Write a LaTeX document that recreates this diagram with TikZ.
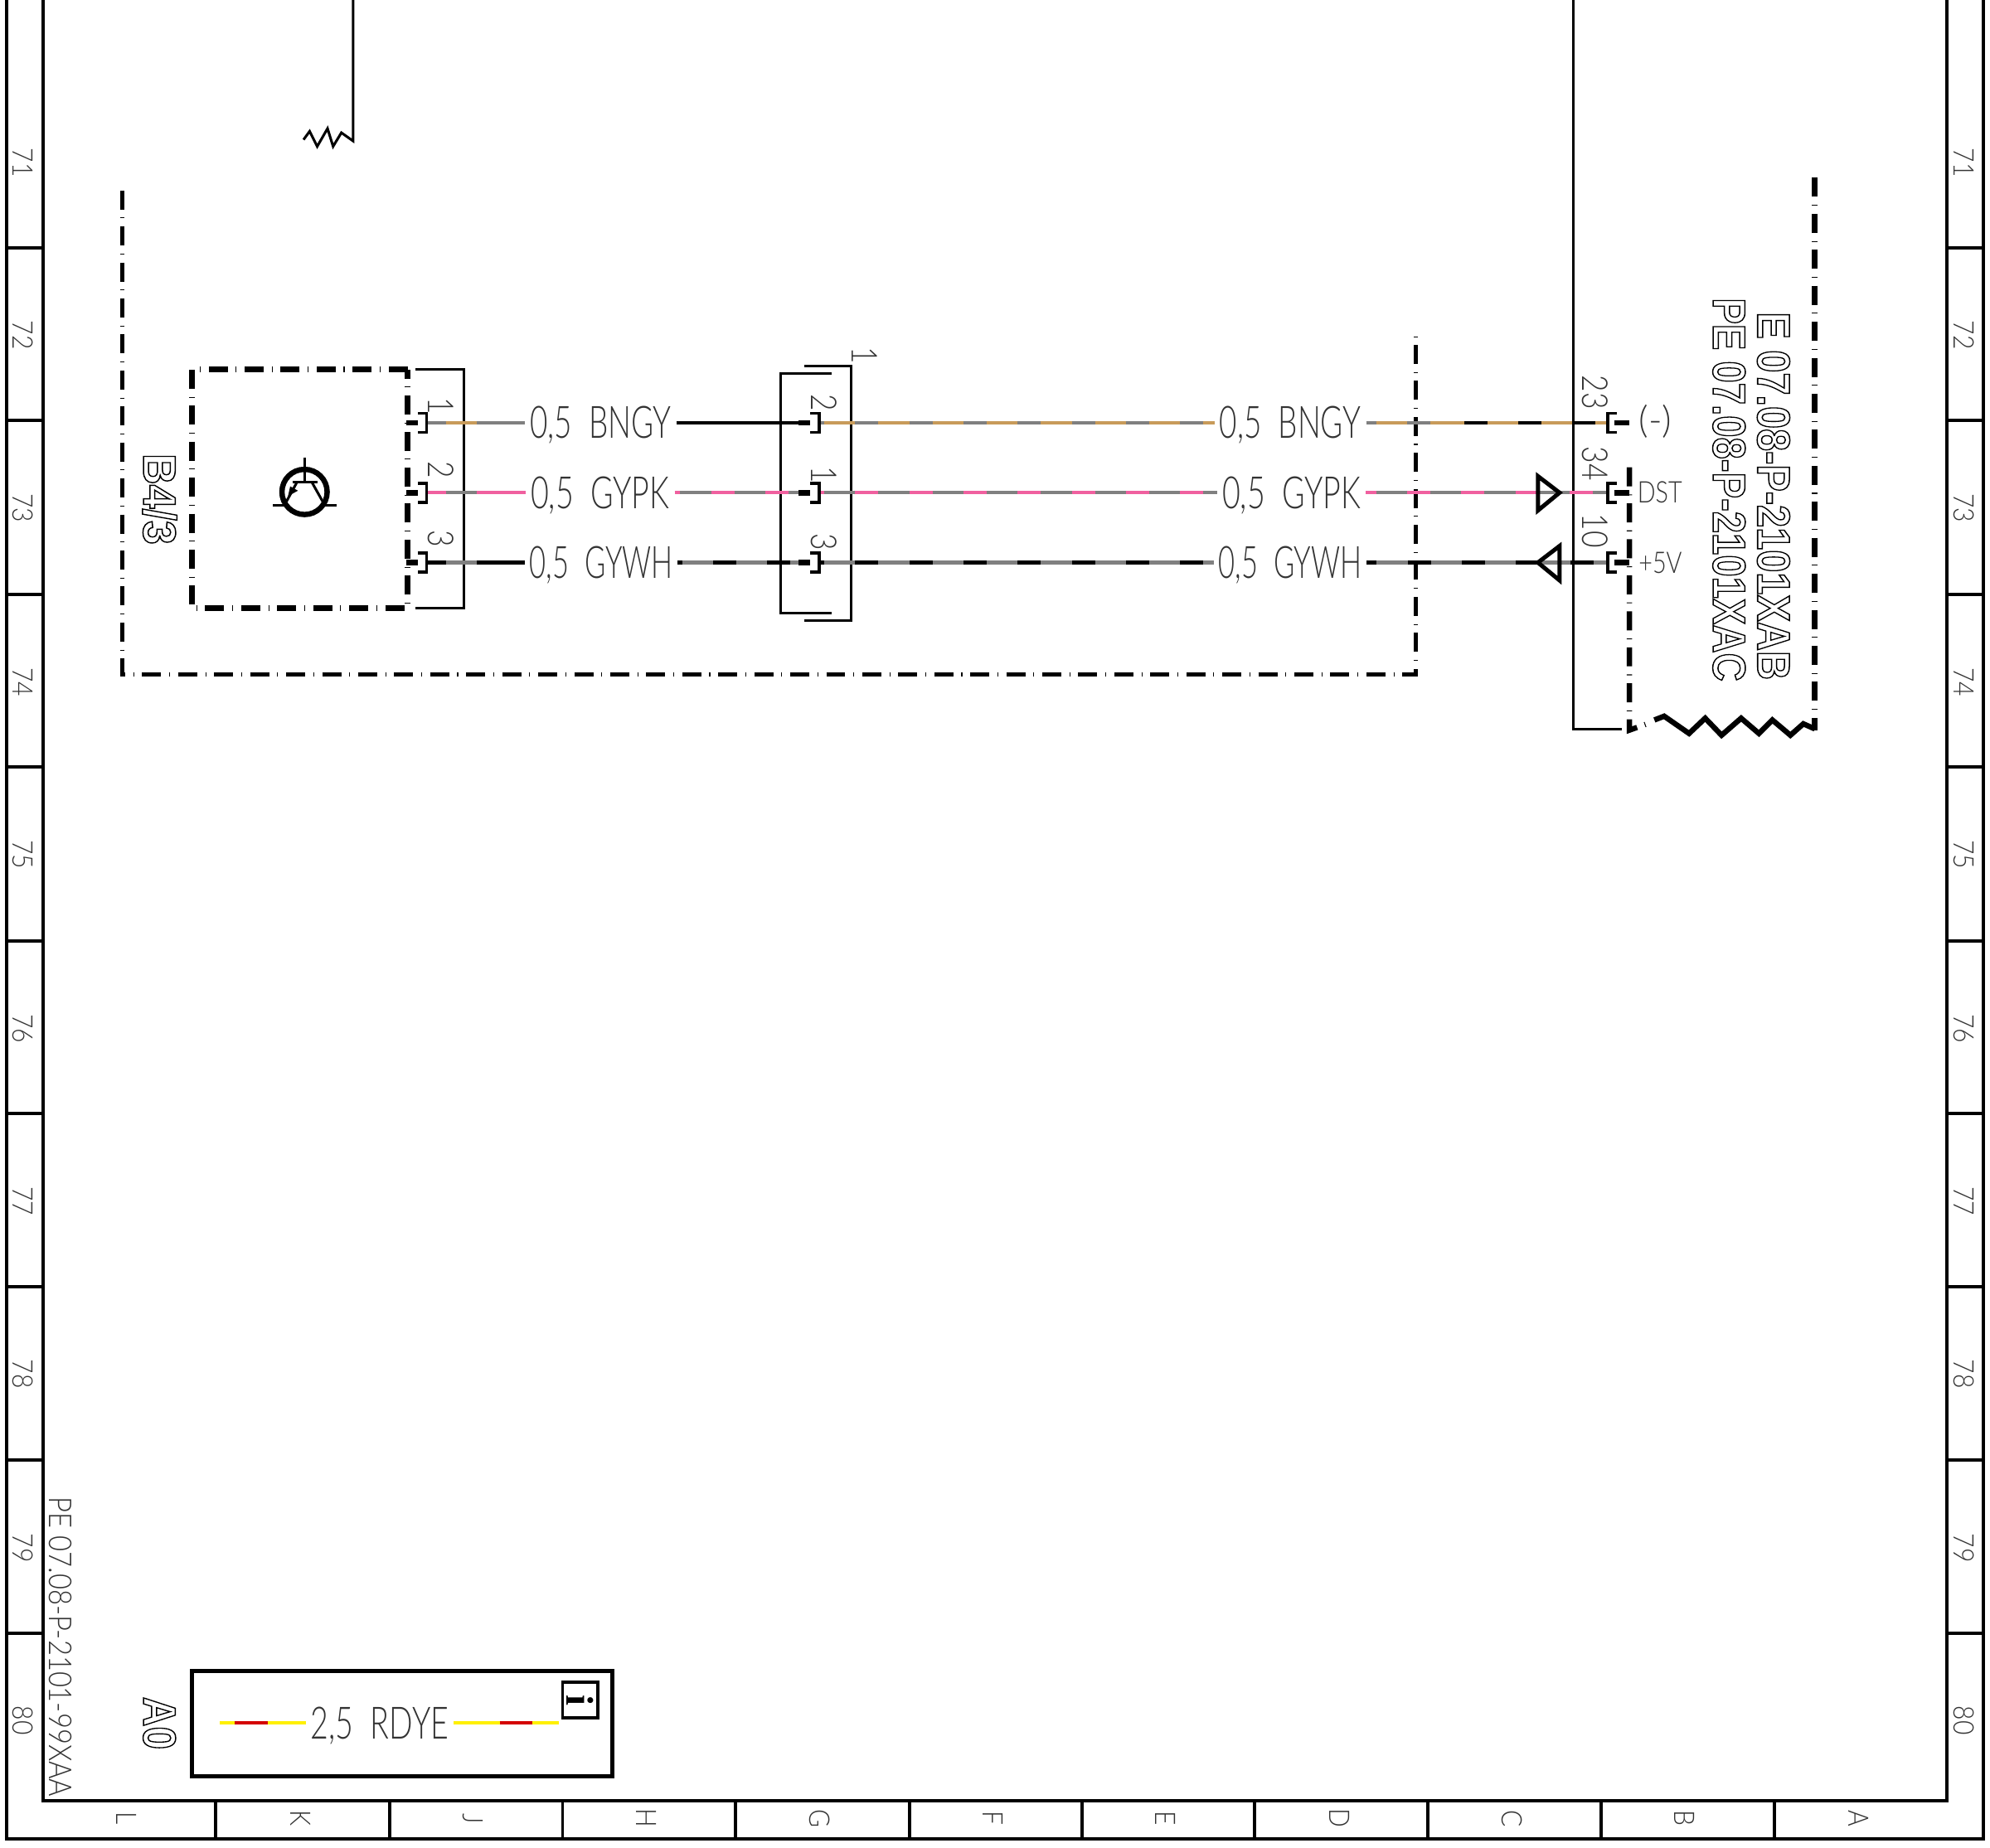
\documentclass[tikz,border=0pt]{standalone}
\usepackage{fontspec}
\setmainfont{Lato Light}
\newfontfamily\titlefont{Liberation Sans}
\newfontfamily\iconfont{Liberation Serif}
\newcommand{\hollow}[1]{\special{pdf: code 1 Tr 0.42 w}#1\special{pdf: code 0 Tr}}
\usetikzlibrary{positioning}
\definecolor{wiretan}{HTML}{C89B5A}
\definecolor{wirepink}{HTML}{F0609F}
\definecolor{wiregray}{HTML}{808080}
\definecolor{wireyellow}{HTML}{FFF000}
\definecolor{wirered}{HTML}{D40000}
\tikzset{
	frameline/.style={line width=1.1pt},
	thinline/.style={line width=.85pt},
	boxline/.style={line width=1.8pt,dash pattern=on 6.4pt off 2.7pt on .3pt off 2.7pt},
	outerline/.style={line width=1.4pt,dash pattern=on 6.4pt off 2.7pt on .3pt off 2.7pt},
	wire/.style n args={3}{line width=1.15pt,draw=#1,postaction={draw=#2,dash pattern=on 10.4pt off 7.8pt,dash phase=#3}},
	stubwire/.style n args={4}{line width=1.15pt,draw=#1,postaction={draw=#2,dash pattern=on #3 off 100pt,dash phase=#4}},
	txt/.style={inner sep=0pt,text=black!80,transform shape},
	rownum/.style={txt,rotate=-90,xscale=.88,font=\fontsize{9.5}{10}\selectfont,text height=7pt,text depth=0pt},
	pinnum/.style={txt,rotate=-90,xscale=.82,font=\fontsize{12}{13}\selectfont,text height=8.6pt,text depth=0pt},
	wirelabel/.style={txt,inner xsep=2.3pt,xscale=.64,font=\fontsize{15}{16}\selectfont,text height=10.5pt,text depth=0pt},
	signal/.style={txt,xscale=.8,font=\fontsize{10}{11}\selectfont,text height=7pt,text depth=0pt},
	title/.style={txt,rotate=-90,text=black,xscale=.85,font=\titlefont\bfseries\fontsize{15.5}{16}\selectfont,text height=11.1pt,text depth=0pt},
	plugR/.pic={
		\draw[line width=1.8pt] (-16,0) -- (-7,0);
		\draw[line width=1pt] (-7,-7.5) -- (0,-7.5) -- (0,7.5) -- (-7,7.5);
	},
	plugL/.pic={
		\draw[line width=1.8pt] (5,0) -- (17,0);
		\draw[line width=1pt] (7,-7.5) -- (0,-7.5) -- (0,7.5) -- (7,7.5);
	}
}
\begin{document}
\begin{tikzpicture}[x=0.015cm,y=-0.015cm]
	\useasboundingbox (0,0) rectangle (1567,1454.7);
	\draw[frameline] (5,0) -- (5,1448) -- (1562,1448) -- (1562,0);
	\draw[frameline] (34,0) -- (34,1418) -- (1533,1418) -- (1533,0);
	\draw[frameline]
		(5,195) -- (34,195) (5,331) -- (34,331) (5,468) -- (34,468) (5,604) -- (34,604) (5,741) -- (34,741)
		(5,877) -- (34,877) (5,1013) -- (34,1013) (5,1150) -- (34,1150) (5,1286) -- (34,1286)
		(1533,195) -- (1562,195) (1533,331) -- (1562,331) (1533,468) -- (1562,468) (1533,604) -- (1562,604) (1533,741) -- (1562,741)
		(1533,877) -- (1562,877) (1533,1013) -- (1562,1013) (1533,1150) -- (1562,1150) (1533,1286) -- (1562,1286)
		(170,1418) -- (170,1448) (307,1418) -- (307,1448) (443,1418) -- (443,1448) (579,1418) -- (579,1448) (716,1418) -- (716,1448)
		(852,1418) -- (852,1448) (988,1418) -- (988,1448) (1124,1418) -- (1124,1448) (1261,1418) -- (1261,1448) (1397,1418) -- (1397,1448);
	\node[rownum] (l71) at (18,128) {71};
	\node[rownum] (l72) at (18,264) {72};
	\node[rownum] (l73) at (18,400) {73};
	\node[rownum] (l74) at (18,537) {74};
	\node[rownum] (l75) at (18,673) {75};
	\node[rownum] (l76) at (18,810) {76};
	\node[rownum] (l77) at (18,946) {77};
	\node[rownum] (l78) at (18,1082) {78};
	\node[rownum] (l79) at (18,1219) {79};
	\node[rownum] (l80) at (18,1355) {80};
	\node[rownum] (r71) at (1547,128) {71};
	\node[rownum] (r72) at (1547,264) {72};
	\node[rownum] (r73) at (1547,400) {73};
	\node[rownum] (r74) at (1547,537) {74};
	\node[rownum] (r75) at (1547,673) {75};
	\node[rownum] (r76) at (1547,810) {76};
	\node[rownum] (r77) at (1547,946) {77};
	\node[rownum] (r78) at (1547,1082) {78};
	\node[rownum] (r79) at (1547,1219) {79};
	\node[rownum] (r80) at (1547,1355) {80};
	\node[rownum] (colL) at (100,1432) {L};
	\node[rownum] (colK) at (237,1432) {K};
	\node[rownum] (colJ) at (373,1432) {J};
	\node[rownum] (colH) at (509,1432) {H};
	\node[rownum] (colG) at (646,1432) {G};
	\node[rownum] (colF) at (782,1432) {F};
	\node[rownum] (colE) at (918,1432) {E};
	\node[rownum] (colD) at (1055,1432) {D};
	\node[rownum] (colC) at (1191,1432) {C};
	\node[rownum] (colB) at (1327,1432) {B};
	\node[rownum] (colA) at (1464,1432) {A};
	\node[txt,rotate=-90,xscale=.86,font=\fontsize{10.6}{11}\selectfont,text height=7.7pt,text depth=0pt] (pageref) at (48,1297) {PE 07.08-P-2101-99XAA};
	\draw[thinline] (278,0) -- (278,111) -- (268.8,104.5) -- (262.3,115.3) -- (257.9,101.2) -- (249.8,115.3) -- (243.8,103.4) -- (239,110);
	\draw[thinline] (1239,0) -- (1239,574) -- (1277,574);
	\draw[outerline] (96,150) -- (96,531) -- (1115,531) -- (1115,265);
	\draw[boxline] (321,291) -- (151,291) -- (151,479) -- (321,479) -- cycle;
	\draw[thinline] (327,291) -- (365,291) -- (365,479) -- (327,479);
	\draw[thinline] (655,294) -- (615,294) -- (615,483) -- (655,483);
	\draw[thinline] (633,288) -- (670,288) -- (670,489) -- (633,489);
	\draw[boxline] (1283,368) -- (1283,575) -- (1297,570);
	\draw[boxline] (1429,140) -- (1429,575);
	\draw[line width=1.8pt] (1302.7,567) -- (1310.4,564) -- (1330,577.6) -- (1342.7,565.6) -- (1355.6,579) -- (1371,565.6) -- (1385,577.6) -- (1395.6,567) -- (1409.8,579) -- (1420,570) -- (1429,574);
	\node[title,xscale=1.1] (b43) at (126,393) {\hollow{B4/3}};
	\node[title,xscale=1.05] (a0) at (126,1357) {\hollow{A0}};
	\node[title,anchor=east,xscale=1.03] (xab) at (1397,536) {\hollow{E 07.08-P-2101XAB}};
	\node[title,anchor=east] (xac) at (1362,537) {\hollow{PE 07.08-P-2101XAC}};
	\draw[line width=1.8pt] (239.8,387.4) circle (17.8);
	\draw[thinline] (239.8,360.2) -- (239.8,379.8) (230.3,379.8) -- (249.9,379.8);
	\draw[thinline] (233.8,379.8) -- (224,397.8) (245.6,379.8) -- (255.7,397.8);
	\draw[thinline] (215,397.8) -- (224,397.8) (255.7,397.8) -- (264.9,397.8);
	\fill (226.8,390.7) -- (228.5,383) -- (234.6,386.4) -- cycle;
	\coordinate (pa1) at (336,333);
	\coordinate (pa2) at (336,388);
	\coordinate (pa3) at (336,443);
	\coordinate (pb1) at (645,333);
	\coordinate (pb2) at (645,388);
	\coordinate (pb3) at (645,443);
	\coordinate (pc1) at (1266,333);
	\coordinate (pc2) at (1266,388);
	\coordinate (pc3) at (1266,443);
	\coordinate (pm1) at (632,333);
	\coordinate (pm2) at (632,388);
	\coordinate (pm3) at (632,443);
	\coordinate (sw1) at (1128.5,333);
	\node[wirelabel,xscale=1.07] (la1) at (473,333) {0,5~~BNGY};
	\node[wirelabel,xscale=1.09] (la2) at (472.5,388) {0,5~~GYPK};
	\node[wirelabel] (la3) at (473.5,443) {0,5~~GYWH};
	\node[wirelabel,xscale=1.07] (lb1) at (1016,333) {0,5~~BNGY};
	\node[wirelabel,xscale=1.09] (lb2) at (1017,388) {0,5~~GYPK};
	\node[wirelabel] (lb3) at (1016,443) {0,5~~GYWH};
	\path
		(pa1) edge [stubwire={wiregray}{wiretan}{10.4pt}{104pt}] (la1.west)
		(pa2) edge [stubwire={wirepink}{wiregray}{10.4pt}{104pt}] (la2.west)
		(pa3) edge [stubwire={black}{wiregray}{10.4pt}{104pt}] (la3.west)
		(la1.east) edge [wire={black}{black}{0pt}] (pm1)
		(la2.east) edge [wire={wirepink}{wiregray}{16.3pt}] (pm2)
		(la3.east) edge [wire={black}{wiregray}{16.7pt}] (pm3)
		(pb1) edge [wire={wiregray}{wiretan}{16.5pt}] (lb1.west)
		(pb2) edge [wire={wirepink}{wiregray}{16.5pt}] (lb2.west)
		(pb3) edge [wire={black}{wiregray}{16.5pt}] (lb3.west)
		(lb1.east) edge [wire={wiregray}{wiretan}{14.8pt}] (sw1)
		(sw1) edge [wire={black}{wiretan}{0pt}] (pc1)
		(lb2.east) edge [wire={wirepink}{wiregray}{14.8pt}] (pc2)
		(lb3.east) edge [wire={black}{wiregray}{14.8pt}] (pc3);
	\pic at (pa1) {plugR};
	\pic at (pa2) {plugR};
	\pic at (pa3) {plugR};
	\pic at (pb1) {plugR};
	\pic at (pb2) {plugR};
	\pic at (pb3) {plugR};
	\pic at (pc1) {plugL};
	\pic at (pc2) {plugL};
	\pic at (pc3) {plugL};
	\draw[line width=1.4pt,line join=miter] (1211,375) -- (1228,388) -- (1211,402) -- cycle;
	\draw[line width=1.4pt,line join=miter] (1228,430) -- (1211,443) -- (1228,457) -- cycle;
	\node[pinnum] (na1) at (347,320) {1};
	\node[pinnum] (na2) at (347,370) {2};
	\node[pinnum] (na3) at (347,424) {3};
	\node[pinnum] (nb1) at (649,317) {2};
	\node[pinnum] (nb2) at (649,374) {1};
	\node[pinnum] (nb3) at (649,427) {3};
	\node[pinnum] (nconn) at (681,280) {1};
	\node[pinnum] (nc1) at (1256,309) {23};
	\node[pinnum] (nc2) at (1256,365) {34};
	\node[pinnum] (nc3) at (1256,418) {10};
	\node[signal,anchor=west,font=\fontsize{12.5}{13}\selectfont,xscale=1.25] (sminus) at (1290,333) {(-)};
	\node[signal,anchor=west] (sdst) at (1289,388) {DST};
	\node[signal,anchor=west] (splus) at (1290,443) {+5V};
	\draw[line width=1.5pt] (151,1316) rectangle (482,1399);
	\node[wirelabel,xscale=1.09] (lz) at (299,1357) {2,5~~RDYE};
	\coordinate (zs) at (173,1357);
	\coordinate (ze) at (440,1357);
	\path
		(zs) edge [stubwire={wireyellow}{wirered}{11pt}{105.9pt}] (lz.west)
		(lz.east) edge [stubwire={wireyellow}{wirered}{11pt}{95.6pt}] (ze);
	\node[draw,line width=1.1pt,minimum size=28*0.015cm,inner sep=0pt] (infobox) at (457,1339) {};
	\node[txt,rotate=-90,text=black,font=\iconfont\bfseries\fontsize{13}{14}\selectfont] (info) at (infobox.center) {i};
\end{tikzpicture}
\end{document}
